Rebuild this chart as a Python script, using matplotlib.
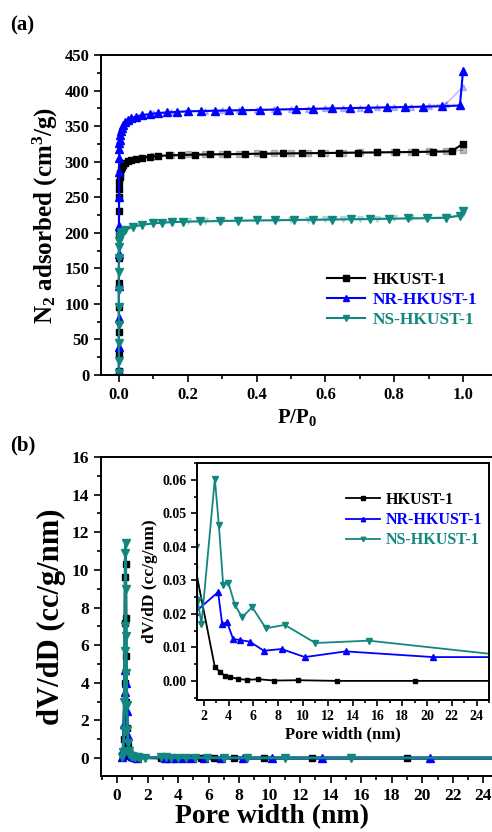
import matplotlib
matplotlib.use("Agg")
import matplotlib.pyplot as plt
from matplotlib.ticker import MultipleLocator

plt.rcParams['font.family'] = ['Liberation Serif', 'DejaVu Serif']
plt.rcParams['font.weight'] = 'bold'
plt.rcParams['axes.labelweight'] = 'bold'
plt.rcParams['mathtext.fontset'] = 'custom'
plt.rcParams['mathtext.rm'] = 'Liberation Serif:bold'
plt.rcParams['mathtext.bf'] = 'Liberation Serif:bold'
plt.rcParams['mathtext.it'] = 'Liberation Serif:bold'

# colores
c_hk = 'black'
c_nr = '#0000ff'
c_ns = '#12877f'

# (a) isotermas de N2 (adsorcion)
p_hk = [1e-7, 1e-6, 5e-6, 2e-5, 5e-5, 1e-4, 2e-4, 4e-4, 7e-4, 1e-3, 1.5e-3, 2e-3, 3e-3, 5e-3,
        0.008, 0.012, 0.018, 0.026, 0.036, 0.05, 0.068, 0.09, 0.115, 0.145, 0.18, 0.22, 0.265,
        0.315, 0.366, 0.42, 0.476, 0.533, 0.587, 0.64, 0.694, 0.749, 0.804, 0.86, 0.912, 0.967, 0.999]
v_hk = [5, 30, 60, 95, 130, 165, 200, 230, 250, 262, 272, 278, 284, 289,
        292, 295, 298, 300.5, 302.5, 304, 305.5, 307, 308, 308.8, 309.3, 309.8, 310.2,
        310.5, 310.8, 311.2, 311.5, 311.8, 312.1, 312.4, 312.7, 313, 313.3, 313.6, 314, 314.5, 325]

p_nr = [1e-7, 1e-6, 5e-6, 2e-5, 5e-5, 1e-4, 2e-4, 4e-4, 7e-4, 1e-3, 1.5e-3, 2e-3, 3e-3, 5e-3,
        0.008, 0.012, 0.018, 0.026, 0.036, 0.05, 0.068, 0.09, 0.115, 0.14, 0.17, 0.2, 0.24,
        0.28, 0.32, 0.357, 0.41, 0.46, 0.514, 0.565, 0.618, 0.671, 0.725, 0.778, 0.831, 0.885,
        0.94, 0.991, 1.0]
v_nr = [5, 40, 80, 125, 170, 210, 250, 285, 305, 318, 326, 331, 337, 343,
        348, 352, 355.5, 358.5, 361, 363.5, 365.5, 367, 368.3, 369.2, 370, 370.7, 371.2,
        371.6, 372, 372.3, 372.8, 373.3, 373.8, 374.3, 374.8, 375.3, 375.8, 376.3, 376.8, 377.3,
        378, 379, 428]

p_ns = [1e-7, 1e-6, 5e-6, 2e-5, 5e-5, 1e-4, 2e-4, 4e-4, 7e-4, 1e-3, 2e-3, 3.5e-3, 6e-3, 0.01,
        0.017, 0.042, 0.066, 0.1, 0.126, 0.153, 0.187, 0.235, 0.293, 0.347, 0.4, 0.455, 0.51,
        0.565, 0.62, 0.675, 0.73, 0.785, 0.84, 0.895, 0.95, 0.99, 1.0]
v_ns = [3, 20, 45, 70, 95, 120, 145, 165, 180, 188, 193, 196, 199, 201,
        203.9, 208.6, 211, 213.3, 214, 215, 215.5, 216, 216.5, 217, 217.3, 217.6, 218,
        218.3, 218.6, 219, 219.3, 219.7, 220.1, 220.5, 221, 224, 230.5]

# desorcion (rama tenue)
p_des = [0.999, 0.95, 0.9, 0.85, 0.8, 0.75, 0.7, 0.65, 0.6, 0.55, 0.5, 0.45, 0.4, 0.35, 0.3,
         0.25, 0.2, 0.15, 0.1]
hk_des = [316, 315, 314.5, 314, 313.7, 313.4, 313.1, 312.8, 312.5, 312.2, 312, 311.8, 311.5,
          311.2, 311, 310.6, 310.2, 309.5, 308]
nr_des = [405, 381, 378.5, 377.5, 377, 376.5, 376, 375.5, 375, 374.5, 374, 373.5, 373, 372.5,
          372, 371.5, 371, 370, 368]
ns_des = [226, 222.5, 221.5, 221, 220.5, 220, 219.6, 219.2, 218.8, 218.5, 218.2, 217.9, 217.6,
          217.3, 217, 216.7, 216.3, 215.7, 214.5]

# (b) distribucion de tamano de poro
hk_w = [0.4, 0.45, 0.5, 0.52, 0.54, 0.56, 0.58, 0.6, 0.62, 0.65, 0.7, 0.75, 0.8, 0.9, 1.0, 1.15,
        1.3, 2.89, 3.29, 3.69, 4.15, 4.77, 5.49, 6.38, 7.67, 9.6, 12.78, 19.0, 28.0]
hk_dv = [0.1, 1.0, 4.0, 7.2, 9.6, 10.3, 7.45, 5.4, 3.0, 1.6, 0.7, 0.3, 0.15, 0.08, 0.05, 0.04,
         0.034, 0.0041, 0.0028, 0.0015, 0.0011, 0.0006, 0.0003, 0.0005, 0.0001, 0.0002, 0.0,
         0.0, 0.0]

nr_w = [0.35, 0.4, 0.45, 0.5, 0.55, 0.6, 0.65, 0.7, 0.75, 0.8, 0.9, 1.0, 1.1, 1.2, 1.3, 3.15,
        3.48, 3.88, 4.36, 4.9, 5.71, 6.84, 8.27, 10.15, 13.45, 20.5, 28.0]
nr_dv = [0.05, 0.5, 1.8, 3.5, 4.7, 4.0, 2.5, 1.2, 0.6, 0.3, 0.15, 0.1, 0.06, 0.04, 0.0205,
         0.0265, 0.017, 0.0175, 0.0125, 0.0122, 0.0117, 0.009, 0.0095, 0.0071, 0.0088, 0.0071,
         0.0071]

ns_w = [0.35, 0.4, 0.45, 0.48, 0.5, 0.52, 0.54, 0.56, 0.58, 0.6, 0.62, 0.65, 0.68, 0.72, 0.76,
        0.8, 0.9, 1.0, 1.1, 1.2, 1.35, 1.5, 1.81, 2.89, 3.21, 3.56, 3.99, 4.5, 5.09, 5.9, 7.0,
        8.53, 11.0, 15.3, 28.0]
ns_dv = [0.05, 0.3, 1.5, 3.0, 5.7, 7.0, 10.9, 11.45, 9.0, 6.5, 4.5, 2.8, 1.5, 0.8, 0.4,
         0.2, 0.12, 0.09, 0.07, 0.05, 0.04, 0.024, 0.017, 0.0603, 0.0466, 0.0287, 0.0292, 0.0227,
         0.019, 0.022, 0.0157, 0.0167, 0.0113, 0.012, 0.0069]

labels = ['HKUST-1', 'NR-HKUST-1', 'NS-HKUST-1']


def estilo(ax, size):
    ax.tick_params(which='both', direction='out', top=False, right=False, labelsize=size, width=1.2)
    ax.tick_params(which='major', length=5)
    ax.tick_params(which='minor', length=3)
    for s in ax.spines.values():
        s.set_linewidth(1.4)


fig = plt.figure(figsize=(4.92, 8.32), dpi=100)

# ---- panel (a)
ax1 = fig.add_axes([101 / 492, 1 - 375 / 832, 393 / 492, 320 / 832])
ax1.plot(p_des, hk_des, color=c_hk, marker='s', ms=4, lw=1.2, alpha=0.25)
ax1.plot(p_des, nr_des, color=c_nr, marker='^', ms=4, lw=1.2, alpha=0.25)
ax1.plot(p_des, ns_des, color=c_ns, marker='v', ms=4, lw=1.2, alpha=0.25)
ax1.plot(p_hk, v_hk, color=c_hk, marker='s', ms=5, lw=1.5, label=labels[0])
ax1.plot(p_nr, v_nr, color=c_nr, marker='^', ms=5.5, lw=1.5, label=labels[1])
ax1.plot(p_ns, v_ns, color=c_ns, marker='v', ms=5.5, lw=1.5, label=labels[2])
ax1.set_xlim(-0.052, 1.09)
ax1.set_ylim(0, 450)
ax1.xaxis.set_major_locator(MultipleLocator(0.2))
ax1.xaxis.set_minor_locator(MultipleLocator(0.1))
ax1.yaxis.set_major_locator(MultipleLocator(50))
ax1.yaxis.set_minor_locator(MultipleLocator(25))
ax1.xaxis.set_major_formatter(plt.FuncFormatter(lambda v, p: f'{v:.1f}'))
estilo(ax1, 12)
ax1.set_xlabel('P/P$_0$', fontsize=15, labelpad=3)
ax1.set_ylabel('N$_2$ adsorbed (cm$^3$/g)', fontsize=18, labelpad=3)
ax1.legend(loc='upper left', bbox_to_anchor=(318 / 492, 1 - 263 / 832), bbox_transform=fig.transFigure,
           frameon=False, fontsize=12.5, labelcolor='linecolor', handlelength=2.2,
           handletextpad=0.45, labelspacing=0.24, borderpad=0, markerscale=0.8)
fig.text(10 / 492, 1 - 25 / 832, '(a)', fontsize=15, fontweight='bold', va='center')

# ---- panel (b)
ax2 = fig.add_axes([101 / 492, 1 - 776 / 832, 393 / 492, 319 / 832])
ax2.plot(hk_w, hk_dv, color=c_hk, marker='s', ms=5, lw=2)
ax2.plot(nr_w, nr_dv, color=c_nr, marker='^', ms=5.5, lw=2)
ax2.plot(ns_w, ns_dv, color=c_ns, marker='v', ms=5.5, lw=2)
ax2.set_xlim(-1.05, 24.7)
ax2.set_ylim(-0.95, 16)
ax2.xaxis.set_major_locator(MultipleLocator(2))
ax2.xaxis.set_minor_locator(MultipleLocator(1))
ax2.yaxis.set_major_locator(MultipleLocator(2))
ax2.yaxis.set_minor_locator(MultipleLocator(1))
estilo(ax2, 12.5)
ax2.set_xlabel('Pore width (nm)', fontsize=20)
ax2.xaxis.set_label_coords((272 - 101) / 393, -0.088)
ax2.set_ylabel('dV/dD (cc/g/nm)', fontsize=22, labelpad=4)
fig.text(10 / 492, 1 - 445 / 832, '(b)', fontsize=15, fontweight='bold', va='center')

# ---- inset
ax3 = fig.add_axes([197 / 492, 1 - 700 / 832, 292 / 492, 237 / 832])
ax3.plot(hk_w, hk_dv, color=c_hk, marker='s', ms=3.5, lw=1.3, label=labels[0])
ax3.plot(nr_w, nr_dv, color=c_nr, marker='^', ms=4, lw=1.3, label=labels[1])
ax3.plot(ns_w, ns_dv, color=c_ns, marker='v', ms=4, lw=1.3, label=labels[2])
ax3.set_xlim(1.45, 25)
ax3.set_ylim(-0.0057, 0.065)
ax3.xaxis.set_major_locator(MultipleLocator(2))
ax3.xaxis.set_minor_locator(MultipleLocator(1))
ax3.yaxis.set_major_locator(MultipleLocator(0.01))
ax3.yaxis.set_minor_locator(MultipleLocator(0.005))
ax3.yaxis.set_major_formatter(plt.FuncFormatter(lambda v, p: f'{v:.2f}'))
estilo(ax3, 10)
ax3.tick_params(which='major', length=4)
ax3.tick_params(which='minor', length=2)
ax3.set_xlabel('Pore width (nm)', fontsize=12, labelpad=2)
ax3.set_ylabel('dV/dD (cc/g/nm)', fontsize=12.5, labelpad=3)
ax3.legend(loc='upper left', bbox_to_anchor=(338 / 492, 1 - 484 / 832), bbox_transform=fig.transFigure,
           frameon=False, fontsize=11.5, labelcolor='linecolor', handlelength=2.1,
           handletextpad=0.4, labelspacing=0.26, borderpad=0, markerscale=0.8)

fig.savefig('out.png', dpi=100)
